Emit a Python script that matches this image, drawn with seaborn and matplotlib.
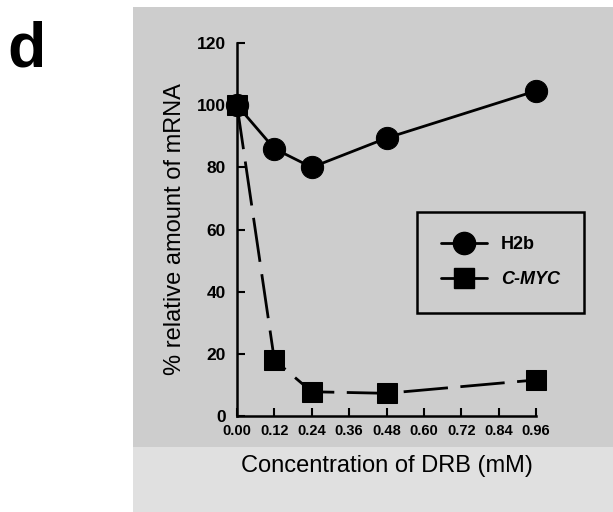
import matplotlib
matplotlib.use("Agg")
import matplotlib.pyplot as plt
import seaborn as sns
import pandas as pd
from matplotlib.patches import Rectangle
from matplotlib.lines import Line2D

# DRB concentration (mM) and % relative mRNA
conc = [0.00, 0.12, 0.24, 0.48, 0.96]
h2b = [100, 86, 80, 89.4, 104.6]
cmyc = [100, 18, 7.8, 7.3, 11.6]
x_ticks = [0.00, 0.12, 0.24, 0.36, 0.48, 0.60, 0.72, 0.84, 0.96]
y_ticks = [0, 20, 40, 60, 80, 100, 120]

df = pd.DataFrame({"conc": conc + conc,
                   "value": h2b + cmyc,
                   "gene": ["H2b"] * len(conc) + ["C-MYC"] * len(conc)})

sns.set_style("ticks")
plt.rcParams["font.family"] = ["Liberation Sans", "DejaVu Sans"]
plt.rcParams["text.color"] = "black"
plt.rcParams["axes.labelcolor"] = "black"
plt.rcParams["xtick.color"] = "black"
plt.rcParams["ytick.color"] = "black"
plt.rcParams["axes.edgecolor"] = "black"

fig = plt.figure(figsize=(6.13, 5.12), dpi=100)
W, H = 613, 512

# stippled grey panel behind the plot
fig.patches.append(Rectangle((133 / W, 0), 1 - 133 / W, 1 - 7 / H, transform=fig.transFigure,
                             facecolor="#cdcdcd", edgecolor="none", zorder=-2))
fig.patches.append(Rectangle((133 / W, 0), 1 - 133 / W, 65 / H, transform=fig.transFigure,
                             facecolor="#e0e0e0", edgecolor="none", zorder=-1))

ax = fig.add_axes([237 / W, 96 / H, 299 / W, 373 / H])
ax.set_facecolor("none")

sns.lineplot(data=df[df.gene == "H2b"], x="conc", y="value", ax=ax, color="black",
             lw=2, marker="o", markersize=16, markeredgecolor="black", clip_on=False, zorder=3)
sns.lineplot(data=df[df.gene == "C-MYC"], x="conc", y="value", ax=ax, color="black",
             lw=2, marker="s", markersize=14, markeredgecolor="black", clip_on=False, zorder=3)
ax.lines[-1].set_dashes([16, 4.5])

ax.set_xlim(0, 0.96)
ax.set_ylim(0, 120)
ax.set_xticks(x_ticks)
ax.set_xticklabels([f"{t:.2f}" for t in x_ticks], fontsize=10.5, fontweight="bold")
ax.set_yticks(y_ticks)
ax.set_yticklabels([str(t) for t in y_ticks], fontsize=12.5, fontweight="bold")
ax.tick_params(direction="in", length=6, width=1.5)
ax.tick_params(axis="x", pad=6)
ax.tick_params(axis="y", pad=8)
for s in ["top", "right"]:
    ax.spines[s].set_visible(False)
for s in ["left", "bottom"]:
    ax.spines[s].set_linewidth(1.8)

ax.set_xlabel("Concentration of DRB (mM)", fontsize=17, labelpad=12)
ax.set_ylabel("% relative amount of mRNA", fontsize=17, labelpad=8)

handles = [Line2D([], [], color="black", lw=2, marker="o", markersize=16),
           Line2D([], [], color="black", lw=2, marker="s", markersize=14)]
leg = ax.legend(handles, ["H2b", "C-MYC"], loc="upper left",
                bbox_to_anchor=((417 - 237) / 299, (416 - 212) / 373),
                frameon=True, fancybox=False, facecolor="none", edgecolor="black",
                handlelength=2.5, handletextpad=0.8, borderpad=1.35, labelspacing=1.0,
                fontsize=13, borderaxespad=0)
leg.get_frame().set_linewidth(1.8)
leg.get_frame().set_alpha(None)
leg.get_texts()[1].set_style("italic")
for t in leg.get_texts():
    t.set_fontweight("bold")

fig.text(7 / W, 1 - 50 / H, "d", fontsize=45, fontweight="bold", va="center", ha="left")

fig.savefig("out.png", dpi=100)
